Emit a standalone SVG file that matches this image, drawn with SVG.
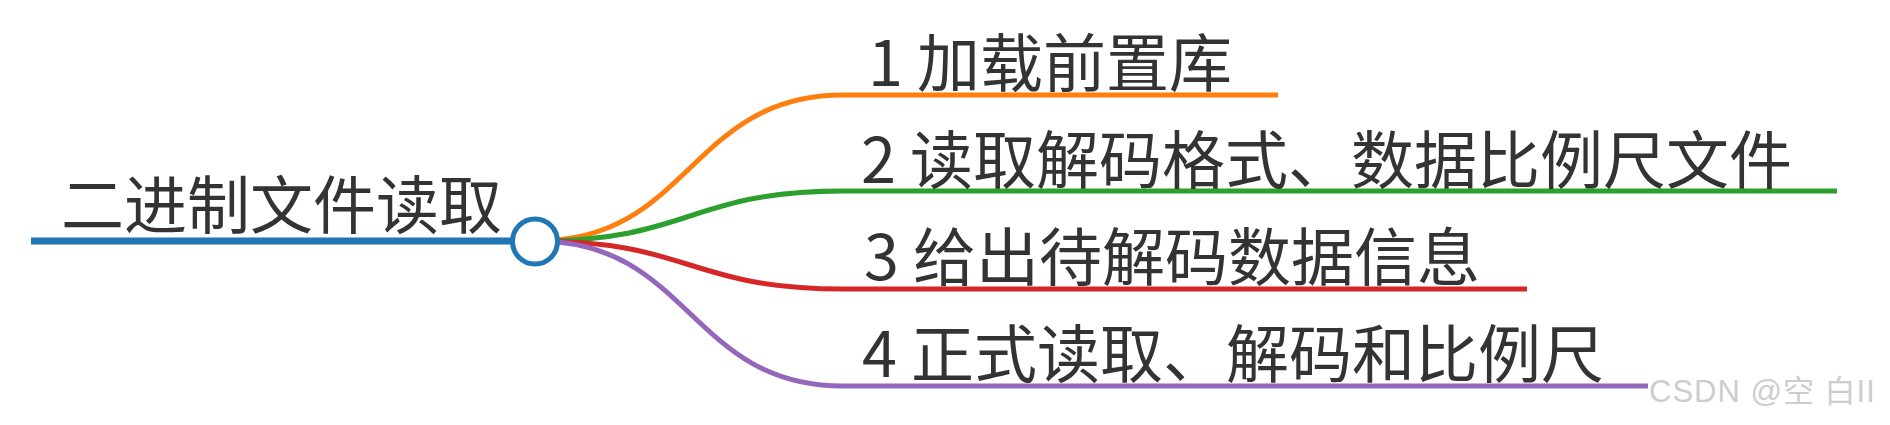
<svg xmlns="http://www.w3.org/2000/svg" width="1890" height="425" viewBox="0 0 1890 425">
<style>
.t{font-family:"Noto Sans CJK SC","Noto Sans",sans-serif;font-size:63px;fill:#333}
.l{fill:none;stroke-linecap:butt}
.wm{font-family:"Liberation Sans","Noto Sans CJK SC",sans-serif;font-size:31px;letter-spacing:1px;fill:#cdcdcd}
</style>
<rect width="1890" height="425" fill="#fff"/>
<g id="connectors">
<path class="l" d="M537,241 C690,241 690,95 843,95 L1278,95" stroke="#ff7f0e" stroke-width="5"/>
<path class="l" d="M537,241 C690,241 690,191 843,191 L1837,191" stroke="#2ca02c" stroke-width="5"/>
<path class="l" d="M537,241 C690,241 690,289 843,289 L1527,289" stroke="#d62728" stroke-width="5"/>
<path class="l" d="M537,241 C690,241 690,386 843,386 L1648,386" stroke="#9467bd" stroke-width="5"/>
</g>
<g id="root">
<line x1="31" y1="241" x2="512" y2="241" stroke="#1f77b4" stroke-width="7"/>
<text class="t" x="61" y="228">二进制文件读取</text>
<circle cx="535" cy="241.5" r="22.5" fill="#fff" stroke="#1f77b4" stroke-width="5"/>
</g>
<g id="n1"><text class="t" x="868" y="86">1 加载前置库</text></g>
<g id="n2"><text class="t" x="861" y="183">2 读取解码格式、数据比例尺文件</text></g>
<g id="n3"><text class="t" x="864" y="280">3 给出待解码数据信息</text></g>
<g id="n4"><text class="t" x="862" y="377">4 正式读取、解码和比例尺</text></g>
<g id="watermark"><text class="wm" x="1649" y="402">CSDN @空 白II</text></g>
</svg>
